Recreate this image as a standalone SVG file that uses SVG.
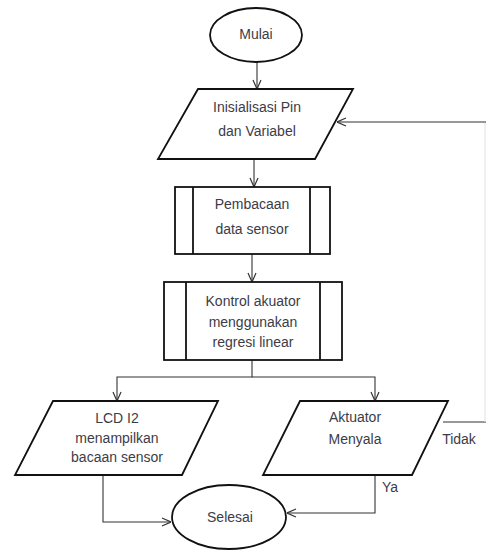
<svg xmlns="http://www.w3.org/2000/svg" width="486" height="551" viewBox="0 0 486 551">
<defs>
<marker id="arr" viewBox="0 0 10 10" refX="10" refY="5" markerWidth="10" markerHeight="10" markerUnits="userSpaceOnUse" orient="auto">
<path d="M1,1 L10,5 L1,9" fill="none" stroke="#333" stroke-width="1.2"/>
</marker>
</defs>
<style>
.shape{fill:#fff;stroke:#111;stroke-width:1.8}
.conn{fill:none;stroke:#333;stroke-width:1.1}
.faint{fill:none;stroke:#e2e2e2;stroke-width:1}
text{font-family:"Liberation Sans","Open Sans",Arial,sans-serif;font-size:14px;fill:#3c3c48;text-anchor:middle}
</style>
<rect width="486" height="551" fill="#fff"/>
<g id="connectors">
<line class="conn" x1="257" y1="62" x2="257" y2="89" marker-end="url(#arr)"/>
<line class="conn" x1="254" y1="159" x2="254" y2="187" marker-end="url(#arr)"/>
<line class="conn" x1="252" y1="254" x2="252" y2="282" marker-end="url(#arr)"/>
<polyline class="conn" points="252,360 252,377 117,377 117,401" marker-end="url(#arr)"/>
<polyline class="conn" points="252,377 375,377 375,401"  marker-end="url(#arr)"/>
<polyline class="conn" points="103,475 103,522 171,522" marker-end="url(#arr)"/>
<polyline class="conn" points="375,475 375,513 287,513" marker-end="url(#arr)"/>
<line class="conn" x1="443" y1="422" x2="486" y2="422"/>
<line class="faint" x1="485" y1="122" x2="485" y2="422"/>
<line class="conn" x1="486" y1="122" x2="337" y2="122" marker-end="url(#arr)"/>
<text x="459" y="444">Tidak</text>
<text x="390" y="492">Ya</text>
</g>
<g id="mulai">
<ellipse class="shape" cx="256" cy="35" rx="46" ry="27"/>
<text x="256" y="39">Mulai</text>
</g>
<g id="inisialisasi">
<polygon class="shape" points="198,89 353,89 315,159 158,159"/>
<text x="257" y="112">Inisialisasi Pin</text>
<text x="257" y="136">dan Variabel</text>
</g>
<g id="pembacaan">
<rect class="shape" x="175" y="187" width="155" height="67"/>
<line class="shape" x1="193" y1="187" x2="193" y2="254"/>
<line class="shape" x1="310" y1="187" x2="310" y2="254"/>
<text x="252" y="209">Pembacaan</text>
<text x="252" y="234">data sensor</text>
</g>
<g id="kontrol">
<rect class="shape" x="164" y="282" width="178" height="78"/>
<line class="shape" x1="186" y1="282" x2="186" y2="360"/>
<line class="shape" x1="320" y1="282" x2="320" y2="360"/>
<text x="253" y="306">Kontrol akuator</text>
<text x="253" y="327">menggunakan</text>
<text x="253" y="347">regresi linear</text>
</g>
<g id="lcd">
<polygon class="shape" points="53,401 218,401 182,475 15,475"/>
<text x="117" y="423">LCD I2</text>
<text x="117" y="443">menampilkan</text>
<text x="117" y="462">bacaan sensor</text>
</g>
<g id="aktuator">
<polygon class="shape" points="300,401 448,401 412,475 263,475"/>
<text x="355" y="422">Aktuator</text>
<text x="355" y="444">Menyala</text>
</g>
<g id="selesai">
<ellipse class="shape" cx="229" cy="517" rx="57" ry="32"/>
<text x="230" y="522">Selesai</text>
</g>
</svg>
